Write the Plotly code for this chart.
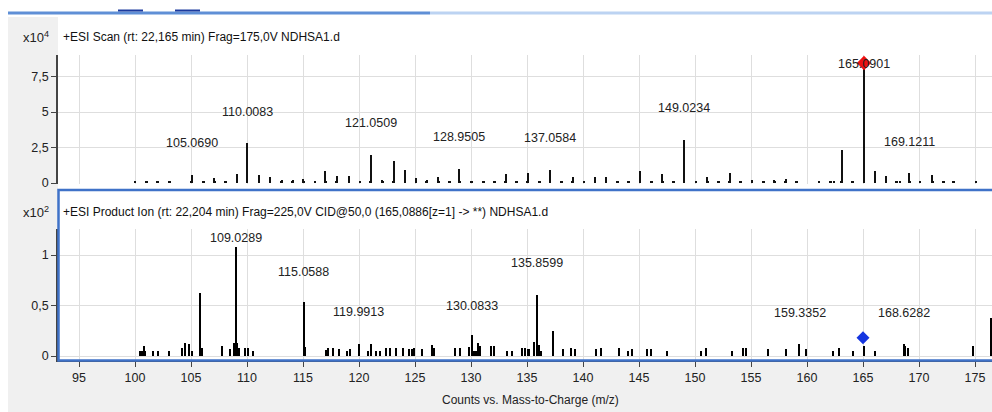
import plotly.graph_objects as go

# ---------------- data ----------------
# Top panel: +ESI Scan, intensity in units of 10^4 counts
scan_mz = [100.0, 101.0, 102.0, 103.1, 105.07, 106.1, 107.1, 108.1, 109.1, 110.0083,
           111.07, 112.05, 113.1, 114.07, 115.03, 116.07, 117.0, 118.0, 119.1, 120.1,
           121.0509, 122.1, 123.1, 124.1, 125.1, 126.05, 127.1, 128.06, 128.9505, 130.06,
           131.1, 132.08, 133.1, 134.06, 135.06, 136.1, 137.0584, 138.1, 139.07, 140.1,
           141.07, 142.05, 143.06, 144.05, 145.1, 146.1, 147.1, 148.1, 149.0234, 150.1,
           151.1, 152.1, 153.1, 154.07, 155.1, 156.1, 157.1, 158.1, 159.07, 161.07,
           162.1, 162.4, 163.1, 164.07, 165.0901, 166.07, 167.05, 168.0, 168.3, 169.1211,
           170.1, 171.2, 172.2, 173.06, 175.1]
scan_int = [0.12, 0.10, 0.10, 0.10, 0.56, 0.15, 0.35, 0.12, 0.60, 2.79,
            0.59, 0.45, 0.23, 0.23, 0.28, 0.12, 0.87, 0.47, 0.52, 0.12,
            2.00, 0.20, 1.53, 0.90, 0.35, 0.21, 0.40, 0.16, 0.99, 0.12,
            0.12, 0.16, 0.60, 0.12, 0.68, 0.16, 0.92, 0.12, 0.40, 0.12,
            0.40, 0.45, 0.12, 0.16, 0.82, 0.12, 0.60, 0.12, 3.03, 0.16,
            0.40, 0.12, 0.70, 0.16, 0.21, 0.12, 0.21, 0.28, 0.12, 0.12,
            0.16, 0.16, 2.32, 0.16, 8.40, 0.82, 0.52, 0.12, 0.12, 0.70,
            0.12, 0.55, 0.10, 0.10, 0.12]
scan_labels = ["105.0690", "110.0083", "121.0509", "128.9505", "137.0584",
               "149.0234", "165.0901", "169.1211"]
scan_label_mz = [105.069, 110.0083, 121.0509, 128.9505, 137.0584, 149.0234, 165.0901, 169.1211]
scan_label_y = [2.82, 5.0, 4.2, 3.25, 3.2, 5.3, 8.4, 2.9]
scan_precursor_mz = [165.0901]
scan_precursor_y = [8.45]

# Bottom panel: +ESI Product Ion, intensity in units of 10^2 counts
prod_mz = [100.45, 100.6, 100.8, 100.9, 101.6, 102.1, 103.0, 104.2, 104.5, 104.8,
           105.1, 105.85, 106.0, 107.8, 108.5, 108.8, 108.9, 109.0289, 109.1, 109.3,
           109.8, 110.1, 110.5, 115.0588, 115.15, 117.05, 117.2, 117.7, 118.2, 118.9,
           119.2, 119.9913, 120.8, 121.1, 121.5, 121.9, 122.4, 122.8, 123.3, 123.9,
           124.5, 124.7, 124.9, 125.6, 126.5, 126.7, 128.6, 129.0, 129.8, 130.0833,
           130.3, 130.45, 130.6, 130.8, 131.8, 132.05, 133.2, 133.7, 134.55, 134.8,
           135.1, 135.2, 135.6, 135.8599, 136.07, 136.25, 137.3, 138.25, 138.96, 139.3,
           141.2, 141.6, 143.25, 144.05, 144.4, 145.7, 146.04, 147.5, 150.5, 151.0,
           153.3, 154.25, 154.6, 156.5, 158.1, 159.3352, 159.9, 162.3, 162.9, 164.1,
           165.1, 166.1, 168.6282, 168.75, 169.0, 174.8, 176.4]
prod_int = [0.053, 0.053, 0.10, 0.053, 0.05, 0.05, 0.05, 0.083, 0.125, 0.115,
            0.053, 0.62, 0.076, 0.10, 0.066, 0.125, 0.13, 1.08, 0.125, 0.083,
            0.076, 0.076, 0.053, 0.53, 0.092, 0.06, 0.076, 0.076, 0.066, 0.05,
            0.066, 0.115, 0.05, 0.115, 0.05, 0.05, 0.083, 0.083, 0.083, 0.083,
            0.066, 0.066, 0.083, 0.066, 0.112, 0.08, 0.083, 0.083, 0.092, 0.205,
            0.05, 0.05, 0.125, 0.102, 0.102, 0.10, 0.05, 0.05, 0.083, 0.083,
            0.066, 0.066, 0.142, 0.60, 0.112, 0.05, 0.25, 0.066, 0.076, 0.066,
            0.066, 0.083, 0.083, 0.05, 0.066, 0.066, 0.066, 0.05, 0.05, 0.083,
            0.05, 0.083, 0.083, 0.066, 0.066, 0.115, 0.066, 0.05, 0.083, 0.05,
            0.10, 0.05, 0.115, 0.10, 0.083, 0.10, 0.373]
prod_labels = ["109.0289", "115.0588", "119.9913", "130.0833", "135.8599", "159.3352", "168.6282"]
prod_label_mz = [109.0289, 115.0588, 119.9913, 130.0833, 135.8599, 159.3352, 168.6282]
prod_label_y = [1.17, 0.83, 0.435, 0.495, 0.92, 0.425, 0.425]
prod_precursor_mz = [165.0]
prod_precursor_y = [0.18]

x_ticks = [95, 100, 105, 110, 115, 120, 125, 130, 135, 140, 145, 150, 155, 160, 165, 170, 175]
top_yticks = [0, 2.5, 5, 7.5]
top_yticktext = ["0", "2,5", "5", "7,5"]
bot_yticks = [0, 0.5, 1]
bot_yticktext = ["0", "0,5", "1"]

top_title = "+ESI Scan (rt: 22,165 min) Frag=175,0V NDHSA1.d"
bot_title = "+ESI Product Ion (rt: 22,204 min) Frag=225,0V CID@50,0 (165,0886[z=1] -> **) NDHSA1.d"
x_title = "Counts vs. Mass-to-Charge (m/z)"

# ---------------- layout helpers ----------------
W, H = 992, 412
FONT = "Liberation Sans, Arial, sans-serif"
TXT = "#222222"


def px(x):
    return x / W


def py(y):
    return 1 - y / H


fig = go.Figure()

# top panel bars (stems + small base blobs)
fig.add_trace(go.Bar(x=scan_mz, y=scan_int, width=0.1, marker=dict(color="#111111", line=dict(width=0)),
                     xaxis="x2", yaxis="y2", showlegend=False, hoverinfo="x+y"))
fig.add_trace(go.Bar(x=scan_mz, y=[min(v, 0.13) for v in scan_int], width=0.24,
                     marker=dict(color="#111111", line=dict(width=0)),
                     xaxis="x2", yaxis="y2", showlegend=False, hoverinfo="skip"))
fig.add_trace(go.Scatter(x=scan_precursor_mz, y=scan_precursor_y, mode="markers",
                         marker=dict(symbol="diamond", size=11, color="#ee1111"),
                         xaxis="x2", yaxis="y2", showlegend=False))

# bottom panel bars
fig.add_trace(go.Bar(x=prod_mz, y=prod_int, width=0.1, marker=dict(color="#000000", line=dict(width=0)),
                     xaxis="x", yaxis="y", showlegend=False))
fig.add_trace(go.Scatter(x=prod_precursor_mz, y=prod_precursor_y, mode="markers",
                         marker=dict(symbol="diamond", size=10, color="#1535e0"),
                         xaxis="x", yaxis="y", showlegend=False))

xr = [95 - (79 - 58) / 11.2, 95 + (W - 79) / 11.2]
grid = "#dedede"
axis_col = "#444444"
tickfont = dict(family=FONT, size=12.5, color=TXT)
labfont = dict(family=FONT, size=12.5, color=TXT)

annotations = []
for t, x, y in zip(scan_labels, scan_label_mz, scan_label_y):
    annotations.append(dict(x=x, y=y, xref="x2", yref="y2", text=t, showarrow=False,
                            xanchor="center", yanchor="middle", font=labfont))
for t, x, y in zip(prod_labels, prod_label_mz, prod_label_y):
    annotations.append(dict(x=x, y=y, xref="x", yref="y", text=t, showarrow=False,
                            xanchor="center", yanchor="middle", font=labfont))

annotations += [
    dict(x=px(21), y=py(37), xref="paper", yref="paper", text="x10<sup>4</sup>", showarrow=False,
         xanchor="left", yanchor="middle", font=dict(family=FONT, size=13, color=TXT)),
    dict(x=px(61), y=py(37), xref="paper", yref="paper", text=top_title, showarrow=False,
         xanchor="left", yanchor="middle", font=dict(family=FONT, size=12, color="#111111")),
    dict(x=px(21), y=py(212), xref="paper", yref="paper", text="x10<sup>2</sup>", showarrow=False,
         xanchor="left", yanchor="middle", font=dict(family=FONT, size=13, color=TXT)),
    dict(x=px(61), y=py(212), xref="paper", yref="paper", text=bot_title, showarrow=False,
         xanchor="left", yanchor="middle", font=dict(family=FONT, size=12, color="#111111")),
    dict(x=px(530), y=py(400), xref="paper", yref="paper", text=x_title, showarrow=False,
         xanchor="center", yanchor="middle", font=dict(family=FONT, size=12, color=TXT)),
]

shapes = [
    # grey window background
    dict(type="rect", xref="paper", yref="paper", x0=px(8), x1=px(58), y0=0, y1=py(17),
         fillcolor="#f0f0f0", line=dict(width=0), layer="below"),
    dict(type="rect", xref="paper", yref="paper", x0=px(8), x1=1, y0=0, y1=py(362),
         fillcolor="#f0f0f0", line=dict(width=0), layer="below"),
    # window chrome strip at top
    dict(type="rect", xref="paper", yref="paper", x0=px(8), x1=px(430), y0=py(14.5), y1=py(11.5),
         fillcolor="#5f8fd6", line=dict(width=0), layer="above"),
    dict(type="rect", xref="paper", yref="paper", x0=px(430), x1=1, y0=py(14.5), y1=py(11.5),
         fillcolor="#bcd3f2", line=dict(width=0), layer="above"),
    dict(type="rect", xref="paper", yref="paper", x0=px(118), x1=px(143), y0=py(11.5), y1=py(9.5),
         fillcolor="#1c3a9e", line=dict(width=0), layer="above"),
    dict(type="rect", xref="paper", yref="paper", x0=px(175), x1=px(200), y0=py(11.5), y1=py(9.5),
         fillcolor="#1c3a9e", line=dict(width=0), layer="above"),
    # blue selection frame around bottom panel
    dict(type="rect", xref="paper", yref="paper", x0=px(58.5), x1=px(1000), y0=py(360.5), y1=py(190),
         fillcolor="rgba(0,0,0,0)", line=dict(color="#3f72c8", width=2.5), layer="above"),
]

fig.update_layout(
    width=W, height=H, autosize=False,
    margin=dict(l=0, r=0, t=0, b=0, autoexpand=False),
    paper_bgcolor="white", plot_bgcolor="white",
    bargap=0, barmode="overlay",
    showlegend=False,
    font=dict(family=FONT, size=12.5, color=TXT),
    xaxis=dict(domain=[px(58), 1], range=xr, anchor="y", tickvals=x_ticks, automargin=False,
               ticktext=[str(v) for v in x_ticks], ticks="outside", ticklen=5, tickcolor=axis_col,
               showline=True, linecolor=axis_col, linewidth=1, showgrid=True, gridcolor=grid,
               zeroline=False, tickfont=tickfont),
    yaxis=dict(domain=[py(361), py(229)], range=[-(361 - 356) / 101, (356 - 229) / 101], anchor="x",
               automargin=False,
               tickvals=bot_yticks, ticktext=bot_yticktext, ticks="outside", ticklen=5, tickcolor=axis_col,
               showline=True, linecolor=axis_col, linewidth=1.5, showgrid=True, gridcolor=grid,
               zeroline=False, tickfont=tickfont),
    xaxis2=dict(domain=[px(58), 1], range=xr, anchor="y2", matches="x", tickvals=x_ticks,
                automargin=False,
                showticklabels=False, ticks="", showline=False, showgrid=True, gridcolor=grid,
                zeroline=False),
    yaxis2=dict(domain=[py(183.5), py(55)], range=[-0.5 / 14.2, (183 - 55) / 14.2], anchor="x2",
                automargin=False,
                tickvals=top_yticks, ticktext=top_yticktext, ticks="outside", ticklen=5, tickcolor=axis_col,
                showline=True, linecolor=axis_col, linewidth=1.5, showgrid=True, gridcolor=grid,
                zeroline=False, tickfont=tickfont),
    annotations=annotations,
    shapes=shapes,
)

fig.write_html(
    "out.html",
    config={"displayModeBar": False},
    post_script="document.body.style.margin='0';document.body.style.padding='0';"
                "document.documentElement.style.overflow='hidden';",
)
